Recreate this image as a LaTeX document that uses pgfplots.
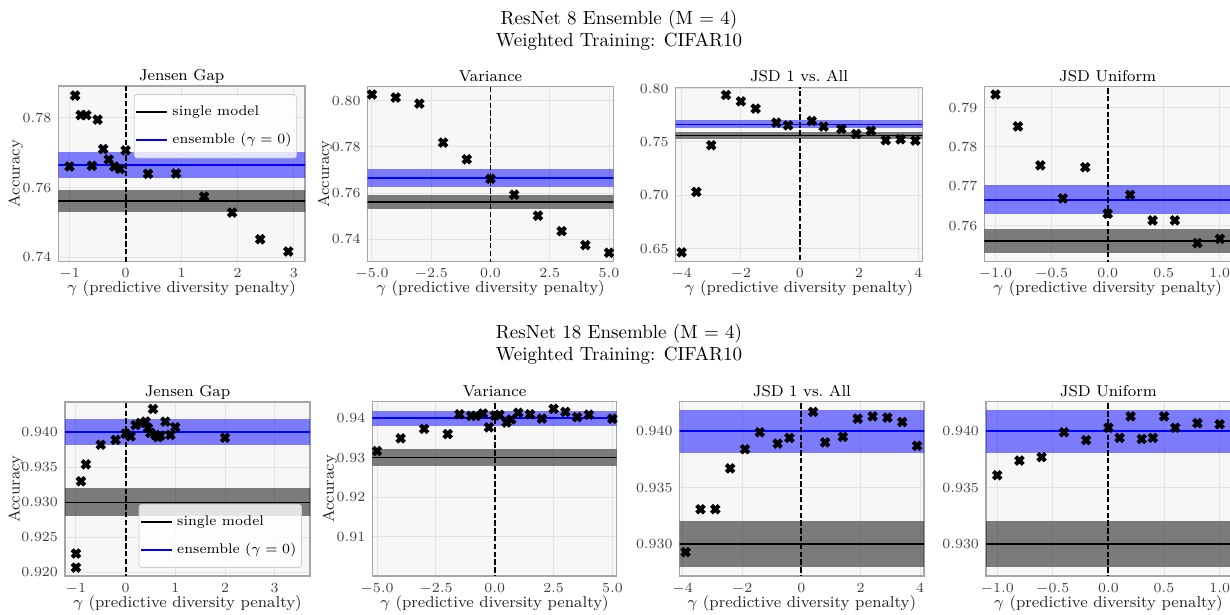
\documentclass[border=0pt]{standalone}
\usepackage{pgfplots}
\pgfplotsset{compat=1.18}
\usepackage{pgfplotstable}

\pgfdeclareplotmark{Xfill}{%
  \pgftransformrotate{45}%
  \pgfpathmoveto{\pgfqpoint{0.38\pgfplotmarksize}{0.38\pgfplotmarksize}}%
  \pgfpathlineto{\pgfqpoint{0.38\pgfplotmarksize}{\pgfplotmarksize}}%
  \pgfpathlineto{\pgfqpoint{-0.38\pgfplotmarksize}{\pgfplotmarksize}}%
  \pgfpathlineto{\pgfqpoint{-0.38\pgfplotmarksize}{0.38\pgfplotmarksize}}%
  \pgfpathlineto{\pgfqpoint{-\pgfplotmarksize}{0.38\pgfplotmarksize}}%
  \pgfpathlineto{\pgfqpoint{-\pgfplotmarksize}{-0.38\pgfplotmarksize}}%
  \pgfpathlineto{\pgfqpoint{-0.38\pgfplotmarksize}{-0.38\pgfplotmarksize}}%
  \pgfpathlineto{\pgfqpoint{-0.38\pgfplotmarksize}{-\pgfplotmarksize}}%
  \pgfpathlineto{\pgfqpoint{0.38\pgfplotmarksize}{-\pgfplotmarksize}}%
  \pgfpathlineto{\pgfqpoint{0.38\pgfplotmarksize}{-0.38\pgfplotmarksize}}%
  \pgfpathlineto{\pgfqpoint{\pgfplotmarksize}{-0.38\pgfplotmarksize}}%
  \pgfpathlineto{\pgfqpoint{\pgfplotmarksize}{0.38\pgfplotmarksize}}%
  \pgfpathclose
  \pgfusepathqfill
}

\pgfplotstableread{
x y
-1.0 0.7660
-0.9 0.7863
-0.8 0.7807
-0.7 0.7807
-0.6 0.7662
-0.5 0.7794
-0.4 0.7710
-0.3 0.7680
-0.2 0.7660
-0.1 0.7653
0.0 0.7706
0.4 0.7639
0.9 0.7640
1.4 0.7574
1.9 0.7528
2.4 0.7452
2.9 0.7417
}\tA
\pgfplotstableread{
x y
-5 0.8026
-4 0.8013
-3 0.7987
-2 0.7818
-1 0.7746
0 0.7662
1 0.7593
2 0.7502
3 0.7435
4 0.7375
5 0.7342
}\tB
\pgfplotstableread{
x y
-4.0 0.6463
-3.5 0.7031
-3.0 0.7469
-2.5 0.7941
-2.0 0.7881
-1.5 0.7813
-0.8 0.7681
-0.4 0.7656
0.4 0.7697
0.8 0.7644
1.4 0.7622
1.9 0.7575
2.4 0.7606
2.9 0.7516
3.4 0.7525
3.9 0.7513
}\tC
\pgfplotstableread{
x y
-1.0 0.7933
-0.8 0.7852
-0.6 0.7753
-0.4 0.7669
-0.2 0.7748
0.0 0.7630
0.2 0.7678
0.4 0.7613
0.6 0.7613
0.8 0.7555
1.0 0.7566
}\tD
\pgfplotstableread{
x y
-1.0 0.9227
-1.0 0.9207
-0.9 0.9330
-0.8 0.9354
-0.5 0.9382
-0.2 0.9389
0.0 0.9398
0.1 0.9394
0.2 0.9410
0.3 0.9413
0.4 0.9415
0.45 0.9406
0.5 0.9399
0.55 0.9433
0.6 0.9396
0.65 0.9393
0.7 0.9395
0.8 0.9415
0.9 0.9396
1.0 0.9407
2.0 0.9392
}\tE
\pgfplotstableread{
x y
-5.0 0.9317
-4.0 0.9349
-3.0 0.9373
-2.0 0.9360
-1.5 0.9410
-1.0 0.9406
-0.8 0.9406
-0.5 0.9412
-0.25 0.9377
0.0 0.9407
0.2 0.9409
0.5 0.9389
0.7 0.9397
1.0 0.9414
1.5 0.9410
2.0 0.9399
2.5 0.9424
3.0 0.9416
3.5 0.9403
4.0 0.9409
5.0 0.9399
}\tF
\pgfplotstableread{
x y
-3.9 0.9293
-3.4 0.9331
-2.9 0.9331
-2.4 0.9367
-1.9 0.9384
-1.4 0.9399
-0.8 0.9389
-0.4 0.9394
0.4 0.9417
0.8 0.9390
1.4 0.9395
1.9 0.9411
2.4 0.9413
2.9 0.9412
3.4 0.9408
3.9 0.9387
}\tG
\pgfplotstableread{
x y
-1.0 0.9361
-0.8 0.9374
-0.6 0.9377
-0.4 0.9399
-0.2 0.9392
0.0 0.9403
0.1 0.9394
0.2 0.9413
0.3 0.9393
0.4 0.9394
0.5 0.9413
0.6 0.9403
0.8 0.9407
1.0 0.9406
}\tH

\pgfplotsset{
  every axis title shift=0pt,
  panel/.style={
    scale only axis,
    anchor=south west,
    axis background/.style={fill=black!3},
    axis line style={black!35, line width=0.6pt},
    grid=major,
    major grid style={black!11, line width=0.5pt},
    major tick length=0pt,
    tick style={draw=none},
    tick label style={font=\fontsize{7.5}{9}\selectfont, text=black!75},
    label style={font=\fontsize{7.9}{9.5}\selectfont, text=black!85},
    title style={font=\fontsize{7.9}{9.5}\selectfont, at={(axis description cs:0.5,1)}, anchor=base, yshift=2.8pt},
    xlabel style={at={(axis description cs:0.5,0)}, anchor=base, yshift=-15.8pt},
    ylabel style={at={(axis description cs:-0.142,0.5)}, anchor=south, inner sep=0pt},
    xlabel={$\gamma$ (predictive diversity penalty)},
    legend image code/.code={\draw[#1] (0pt,0pt) -- (15.5pt,0pt);},
    legend style={font=\fontsize{7}{8.5}\selectfont, draw=black!20, fill=white,
      fill opacity=0.8, text opacity=1, rounded corners=1.5pt,
      cells={anchor=west}, inner xsep=0.6pt, inner ysep=3.6pt, row sep=3.4pt},
  },
  bandB/.style={fill=blue, fill opacity=0.5, draw=none, forget plot},
  bandK/.style={fill=black, fill opacity=0.5, draw=none, forget plot},
  lineB/.style={blue, line width=0.8pt, forget plot},
  lineK/.style={black, line width=0.8pt, forget plot},
  vdash/.style={black, line width=0.95pt, dash pattern=on 2.7pt off 1.2pt, forget plot},
  pts/.style={only marks, mark=Xfill, mark size=2.7pt, mark options={fill=black}, black, forget plot},
}

\newcommand{\toprow}{%
  \addplot[bandB] coordinates {(-10,0.7628) (10,0.7628) (10,0.7702) (-10,0.7702)} -- cycle;
  \addplot[bandK] coordinates {(-10,0.7531) (10,0.7531) (10,0.7592) (-10,0.7592)} -- cycle;
  \addplot[lineB] coordinates {(-10,0.7665) (10,0.7665)};
  \addplot[lineK] coordinates {(-10,0.7561) (10,0.7561)};
  \addplot[vdash] coordinates {(0,0.5) (0,1)};
}
\newcommand{\botrow}{%
  \addplot[bandB] coordinates {(-10,0.9381) (10,0.9381) (10,0.9419) (-10,0.9419)} -- cycle;
  \addplot[bandK] coordinates {(-10,0.9280) (10,0.9280) (10,0.9321) (-10,0.9321)} -- cycle;
  \addplot[lineB] coordinates {(-10,0.9400) (10,0.9400)};
  \addplot[lineK] coordinates {(-10,0.9300) (10,0.9300)};
  \addplot[vdash] coordinates {(0,0.8) (0,1)};
}
\newcommand{\legendlines}{%
  \addlegendimage{black, line width=1pt}
  \addlegendentry{single model}
  \addlegendimage{blue, line width=1pt}
  \addlegendentry{ensemble ($\gamma = 0$)}
}

\begin{document}
\begin{tikzpicture}
\useasboundingbox (0,0) rectangle (615pt,307.5pt);
\clip (0,0) rectangle (615pt,307.5pt);

\node[anchor=base, font=\fontsize{9.5}{11}\selectfont] at (309.5pt,295pt) {ResNet 8 Ensemble (M = 4)};
\node[anchor=base, font=\fontsize{9.5}{11}\selectfont] at (309.5pt,284pt) {Weighted Training: CIFAR10};
\node[anchor=base, font=\fontsize{9.5}{11}\selectfont] at (309.5pt,138pt) {ResNet 18 Ensemble (M = 4)};
\node[anchor=base, font=\fontsize{9.5}{11}\selectfont] at (309.5pt,127pt) {Weighted Training: CIFAR10};

% ---------- top row ----------
\begin{axis}[panel, at={(29.15pt,176.85pt)}, width=123.35pt, height=87.6pt,
  title={Jensen Gap}, ylabel={Accuracy},
  xmin=-1.2, xmax=3.2, ymin=0.7389, ymax=0.789,
  xtick={-1,0,1,2,3}, xticklabels={$-1$,$0$,$1$,$2$,$3$},
  ytick={0.74,0.76,0.78}, yticklabels={$0.74$,$0.76$,$0.78$},
  legend style={at={(0.968,0.954)}, anchor=north east}]
\toprow
\addplot[pts] table[x=x,y=y] {\tA};
\legendlines
\end{axis}

\begin{axis}[panel, at={(183.85pt,176.85pt)}, width=122.8pt, height=87.3pt,
  title={Variance}, ylabel={Accuracy},
  xmin=-5.18, xmax=5.18, ymin=0.7305, ymax=0.806,
  xtick={-5,-2.5,0,2.5,5}, xticklabels={$-5.0$,$-2.5$,$0.0$,$2.5$,$5.0$},
  ytick={0.74,0.76,0.78,0.80}, yticklabels={$0.74$,$0.76$,$0.78$,$0.80$}]
\toprow
\addplot[pts] table[x=x,y=y] {\tB};
\end{axis}

\begin{axis}[panel, at={(337.85pt,176.85pt)}, width=123.3pt, height=87pt,
  title={JSD 1 vs.\ All},
  xmin=-4.2, xmax=4.135, ymin=0.638, ymax=0.8013,
  xtick={-4,-2,0,2,4}, xticklabels={$-4$,$-2$,$0$,$2$,$4$},
  ytick={0.65,0.70,0.75,0.80}, yticklabels={$0.65$,$0.70$,$0.75$,$0.80$}]
\toprow
\addplot[pts] table[x=x,y=y] {\tC};
\end{axis}

\begin{axis}[panel, at={(492.15pt,176.85pt)}, width=123.35pt, height=87.3pt,
  title={JSD Uniform},
  xmin=-1.1, xmax=1.1, ymin=0.7509, ymax=0.7953,
  xtick={-1,-0.5,0,0.5,1}, xticklabels={$-1.0$,$-0.5$,$0.0$,$0.5$,$1.0$},
  ytick={0.76,0.77,0.78,0.79}, yticklabels={$0.76$,$0.77$,$0.78$,$0.79$}]
\toprow
\addplot[pts] table[x=x,y=y] {\tD};
\end{axis}

% ---------- bottom row ----------
\begin{axis}[panel, at={(32.5pt,19.5pt)}, width=122.5pt, height=87pt,
  title={Jensen Gap}, ylabel={Accuracy},
  ylabel style={at={(axis description cs:-0.170,0.5)}},
  xmin=-1.22, xmax=3.71, ymin=0.9195, ymax=0.9443,
  xtick={-1,0,1,2,3}, xticklabels={$-1$,$0$,$1$,$2$,$3$},
  ytick={0.920,0.925,0.930,0.935,0.940}, yticklabels={$0.920$,$0.925$,$0.930$,$0.935$,$0.940$},
  legend style={at={(0.967,0.046)}, anchor=south east}]
\botrow
\addplot[pts] table[x=x,y=y] {\tE};
\legendlines
\end{axis}

\begin{axis}[panel, at={(186.15pt,19.5pt)}, width=122.2pt, height=87.15pt,
  title={Variance}, ylabel={Accuracy},
  xmin=-5.2, xmax=5.18, ymin=0.9000, ymax=0.9442,
  xtick={-5,-2.5,0,2.5,5}, xticklabels={$-5.0$,$-2.5$,$0.0$,$2.5$,$5.0$},
  ytick={0.91,0.92,0.93,0.94}, yticklabels={$0.91$,$0.92$,$0.93$,$0.94$}]
\botrow
\addplot[pts] table[x=x,y=y] {\tF};
\end{axis}

\begin{axis}[panel, at={(339.85pt,19.5pt)}, width=122.15pt, height=87.15pt,
  title={JSD 1 vs.\ All},
  xmin=-4.1, xmax=4.135, ymin=0.9272, ymax=0.9426,
  xtick={-4,-2,0,2,4}, xticklabels={$-4$,$-2$,$0$,$2$,$4$},
  ytick={0.930,0.935,0.940}, yticklabels={$0.930$,$0.935$,$0.940$}]
\botrow
\addplot[pts] table[x=x,y=y] {\tG};
\end{axis}

\begin{axis}[panel, at={(493pt,19.5pt)}, width=122.4pt, height=87.15pt,
  title={JSD Uniform},
  xmin=-1.1, xmax=1.1, ymin=0.9272, ymax=0.9426,
  xtick={-1,-0.5,0,0.5,1}, xticklabels={$-1.0$,$-0.5$,$0.0$,$0.5$,$1.0$},
  ytick={0.930,0.935,0.940}, yticklabels={$0.930$,$0.935$,$0.940$}]
\botrow
\addplot[pts] table[x=x,y=y] {\tH};
\end{axis}
\end{tikzpicture}
\end{document}
